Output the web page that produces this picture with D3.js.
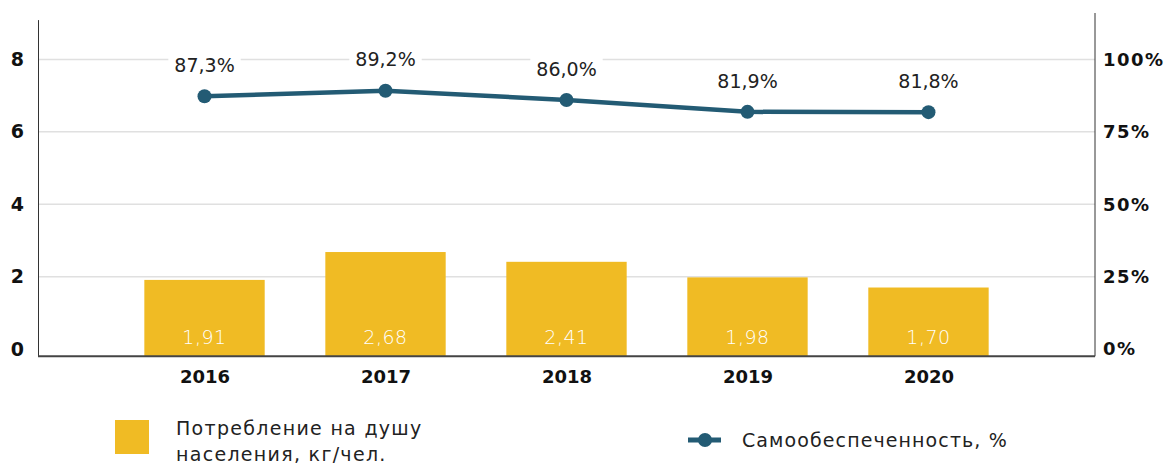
<!DOCTYPE html>
<html><head><meta charset="utf-8">
<script src="https://cdn.jsdelivr.net/npm/d3@7"></script>
<style>body{margin:0;background:#fff;}svg{display:block;font-family:"DejaVu Sans",sans-serif;}</style>
</head><body><svg id="c" width="1165" height="466"></svg>
<script>
const years = ["2016","2017","2018","2019","2020"];
const consumption = [1.91, 2.68, 2.41, 1.98, 1.70];
const selfSufficiency = [87.3, 89.2, 86.0, 81.9, 81.8];
const leftTicks = [0, 2, 4, 6, 8];
const rightTicks = [0, 25, 50, 75, 100];
const legendLabels = ["Потребление на душу", "населения, кг/чел.", "Самообеспеченность, %"];

const barColor = "#F0BB24", lineColor = "#235B74";
const svg = d3.select("#c");
const L = 38, R = 1095;
const x = d3.scalePoint().domain(years).range([L, R]).padding(0.92);
const y = d3.scaleLinear().domain([-0.2, 9.1]).range([356.3, 19.6]);
const y2 = d3.scaleLinear().domain([0, 100]).range([y(0), y(8)]);
const fmt = v => v.toFixed(2).replace(".", ",");
const fmtP = v => v.toFixed(1).replace(".", ",") + "%";

// gridlines
svg.append("g").selectAll("line").data(leftTicks.filter(d => d > 0)).join("line")
  .attr("x1", L).attr("x2", R).attr("y1", d => y(d)).attr("y2", d => y(d))
  .attr("stroke", "#e0e0e0").attr("stroke-width", 1.5);

// bars
const bw = x.step() * 0.665;
svg.append("g").selectAll("rect").data(consumption).join("rect")
  .attr("x", (d, i) => x(years[i]) - bw / 2).attr("width", bw)
  .attr("y", d => y(d)).attr("height", d => y(-0.2) - y(d))
  .attr("fill", barColor);
svg.append("g").selectAll("text").data(consumption).join("text")
  .attr("x", (d, i) => x(years[i])).attr("y", 337).attr("dy", "0.35em")
  .attr("text-anchor", "middle").attr("fill", "#fff").attr("font-size", 19).attr("font-weight", 300)
  .attr("letter-spacing", 0.5)
  .text(fmt);

// axes
const gl = svg.append("g").attr("transform", `translate(${L},0)`)
  .call(d3.axisLeft(y).tickValues(leftTicks).tickSize(0).tickPadding(14).tickFormat(d => d));
gl.select(".domain").attr("stroke", "#333");
gl.selectAll("text").attr("font-size", 19).attr("font-weight", "bold").attr("fill", "#111").attr("font-family", "DejaVu Sans");
const gr = svg.append("g").attr("transform", `translate(${R},0)`)
  .call(d3.axisRight(y2).tickValues(rightTicks).tickSize(0).tickPadding(8).tickFormat(d => d + "%"));
gr.select(".domain").attr("d", `M0,13V${y(-0.2)}`).attr("stroke", "#333");
gr.selectAll("text").attr("font-size", 18).attr("font-weight", "bold").attr("fill", "#111").attr("font-family", "DejaVu Sans").attr("letter-spacing", 1.5);
const gb = svg.append("g").attr("transform", `translate(0,${y(-0.2)})`)
  .call(d3.axisBottom(x).tickSize(0).tickPadding(14));
gb.select(".domain").attr("d", `M${L},0H${R}`).attr("stroke", "#444").attr("stroke-width", 2);
gb.selectAll("text").attr("font-size", 18).attr("font-weight", "bold").attr("fill", "#111").attr("font-family", "DejaVu Sans");

// line
const line = d3.line().x((d, i) => x(years[i])).y(d => y2(d));
svg.append("path").datum(selfSufficiency).attr("d", line)
  .attr("fill", "none").attr("stroke", lineColor).attr("stroke-width", 4.5);
svg.append("g").selectAll("circle").data(selfSufficiency).join("circle")
  .attr("cx", (d, i) => x(years[i])).attr("cy", d => y2(d)).attr("r", 7).attr("fill", lineColor);
const lbl = svg.append("g").selectAll("g").data(selfSufficiency).join("g")
  .attr("transform", (d, i) => `translate(${x(years[i])},${y2(d) - 31})`);
lbl.append("text").attr("text-anchor", "middle").attr("dy", "0.35em")
  .attr("font-size", 19).attr("fill", "#222").text(fmtP)
  .each(function () {
    const b = this.getBBox();
    d3.select(this.parentNode).insert("rect", "text")
      .attr("x", b.x - 6).attr("y", b.y).attr("width", b.width + 12).attr("height", b.height).attr("fill", "#fff");
  });

// legend
svg.append("rect").attr("x", 115).attr("y", 420).attr("width", 34).attr("height", 34).attr("fill", barColor);
svg.append("text").attr("x", 176).attr("y", 428).attr("dy", "0.35em").attr("font-size", 19).attr("letter-spacing", 1.3).attr("fill", "#222").text(legendLabels[0]);
svg.append("text").attr("x", 176).attr("y", 454).attr("dy", "0.35em").attr("font-size", 19).attr("letter-spacing", 1.3).attr("fill", "#222").text(legendLabels[1]);
svg.append("line").attr("x1", 688).attr("x2", 721).attr("y1", 440).attr("y2", 440).attr("stroke", lineColor).attr("stroke-width", 5);
svg.append("circle").attr("cx", 705).attr("cy", 440).attr("r", 7).attr("fill", lineColor);
svg.append("text").attr("x", 742).attr("y", 440).attr("dy", "0.35em").attr("font-size", 19).attr("letter-spacing", 1.1).attr("fill", "#222").text(legendLabels[2]);
</script></body></html>
